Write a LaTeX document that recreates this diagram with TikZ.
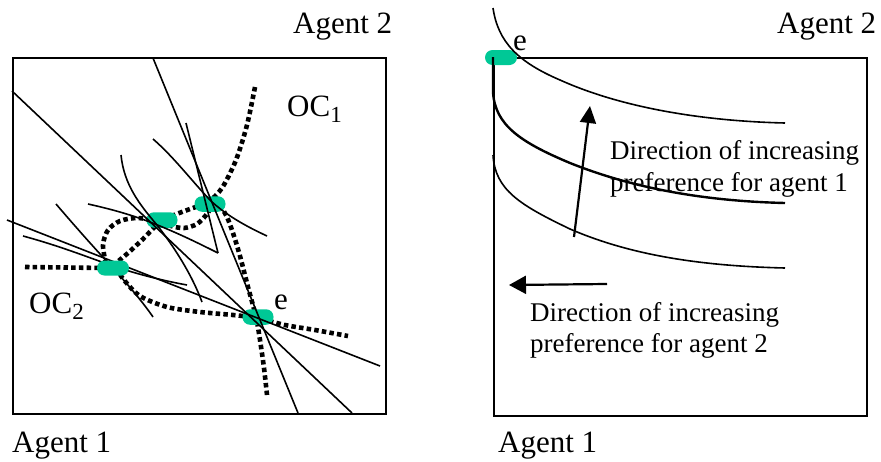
\documentclass[tikz,border=0pt]{standalone}
\usepackage{fontspec}
\setmainfont{Liberation Serif}
\usetikzlibrary{arrows.meta}
\definecolor{blobgreen}{RGB}{0,200,150}
\begin{document}
\begin{tikzpicture}[x=1pt,y=-1pt,
  thinline/.style={line width=1.6pt},
  boldline/.style={line width=2.4pt},
  boxline/.style={line width=2pt},
  ocdot/.style={line width=4.6pt, dash pattern=on 4.5pt off 3.2pt},
  blob/.style={fill=blobgreen, draw=none, rounded corners=7.5pt, inner sep=0, minimum width=31pt, minimum height=15.5pt},
  lbl/.style={inner sep=0, anchor=base west, font=\fontsize{31}{37}\selectfont},
  txt/.style={inner sep=0, anchor=base west, font=\fontsize{27}{32}\selectfont},
  arr/.style={line width=2.2pt, -{Triangle[length=17pt,width=16pt]}}
]
\useasboundingbox (0,0) rectangle (881,461);
\newcommand{\subsc}[1]{\raisebox{-6pt}{\fontsize{23}{23}\selectfont #1}}

% ---------- left panel ----------
\node[draw, boxline, inner sep=0, minimum width=373pt, minimum height=356pt, anchor=north west] (boxL) at (12,57) {};

% dotted offer curves
\draw[ocdot] plot[smooth] coordinates {(255,87) (247,125) (236,160) (222,188) (208,202) (190,209) (172,216) (157,225) (142,240) (128,253) (116,263)};
\draw[ocdot] plot[smooth] coordinates {(116,268) (124,280) (140,296) (167,307) (200,312) (233,315) (257,318) (285,325) (315,330) (348,336)};
\draw[ocdot] (25,267) -- (106,268);
\draw[ocdot] plot[smooth] coordinates {(106,264) (103,245) (108,230) (120,221) (137,218) (157,221) (171,226) (184,228) (197,224) (207,214) (214,203)};
\draw[ocdot] plot[smooth] coordinates {(220,205) (227,217) (233,233) (240,256) (248,287) (256,317) (260,340) (264,368) (267,395)};

% green points
\node[blob] (pm) at (162,220) {};
\node[blob] (pt) at (210,204) {};
\node[blob] (pe) at (258,317) {};

% straight lines through e
\coordinate (a1) at (12,91);   \coordinate (a2) at (352,413);
\coordinate (b1) at (7,220);   \coordinate (b2) at (380,366);
\coordinate (c1) at (153,58);  \coordinate (c2) at (298,413);
\draw[thinline] (a1) -- (a2);
\draw[thinline] (b1) -- (b2);
\draw[thinline] (c1) -- (c2);

% indifference curves
\draw[thinline] (153,139) .. controls (175,158) and (195,185) .. (212,202) .. controls (230,218) and (250,228) .. (267,236);
\draw[thinline] (186,123) -- (218,253);
\draw[thinline] (88,204) .. controls (115,210) and (135,216) .. (155,224) .. controls (180,234) and (200,244) .. (218,253);
\draw[thinline] (121,155) .. controls (124,185) and (140,205) .. (157,225) .. controls (175,248) and (192,275) .. (202,302);
\draw[thinline] (56,204) .. controls (80,232) and (98,252) .. (113,268) .. controls (130,287) and (145,305) .. (153,317);
\draw[thinline] (23,236) .. controls (60,246) and (90,258) .. (113,266) .. controls (140,275) and (165,281) .. (187,285);

\node[blob, minimum width=32pt, minimum height=15pt] (pl) at (113,268) {};

% labels
\node[lbl] (ag2L) at (293,33) {Agent 2};
\node[lbl] (ag1L) at (12,452) {Agent 1};
\node[lbl] (oc1) at (287,116) {OC\subsc{1}};
\node[lbl] (oc2) at (29,313) {OC\subsc{2}};
\node[lbl] (eL) at (274,309) {e};

% ---------- right panel ----------
\node[draw, boxline, inner sep=0, minimum width=373pt, minimum height=358pt, anchor=north west] (boxR) at (493,57) {};
\node[blob, minimum width=32pt, minimum height=15pt] (pr) at (501,57.5) {};

\draw[thinline] (493,8) .. controls (498,42) and (518,62) .. (560,80) .. controls (620,107) and (700,121) .. (785,123);
\draw[boldline] (493,57) -- (493,92) .. controls (495,125) and (520,142) .. (570,163) .. controls (630,187) and (700,201) .. (785,203);
\draw[thinline] (493,155) .. controls (495,190) and (520,205) .. (570,229) .. controls (630,255) and (700,266) .. (785,268);

\coordinate (u1) at (574,237); \coordinate (u2) at (590,106);
\coordinate (v1) at (607,284); \coordinate (v2) at (509,285);
\draw[arr] (u1) -- (u2);
\draw[arr, -{Triangle[length=17pt,width=18pt]}] (v1) -- (v2);

\node[lbl] (ag2R) at (777,33) {Agent 2};
\node[lbl] (ag1R) at (498,452) {Agent 1};
\node[lbl] (eR) at (513,50) {e};
\node[txt] (d1a) at (610,159) {Direction of increasing};
\node[txt] (d1b) at (610,191) {preference for agent 1};
\node[txt] (d2a) at (530,321) {Direction of increasing};
\node[txt] (d2b) at (530,352) {preference for agent 2};
\end{tikzpicture}
\end{document}
